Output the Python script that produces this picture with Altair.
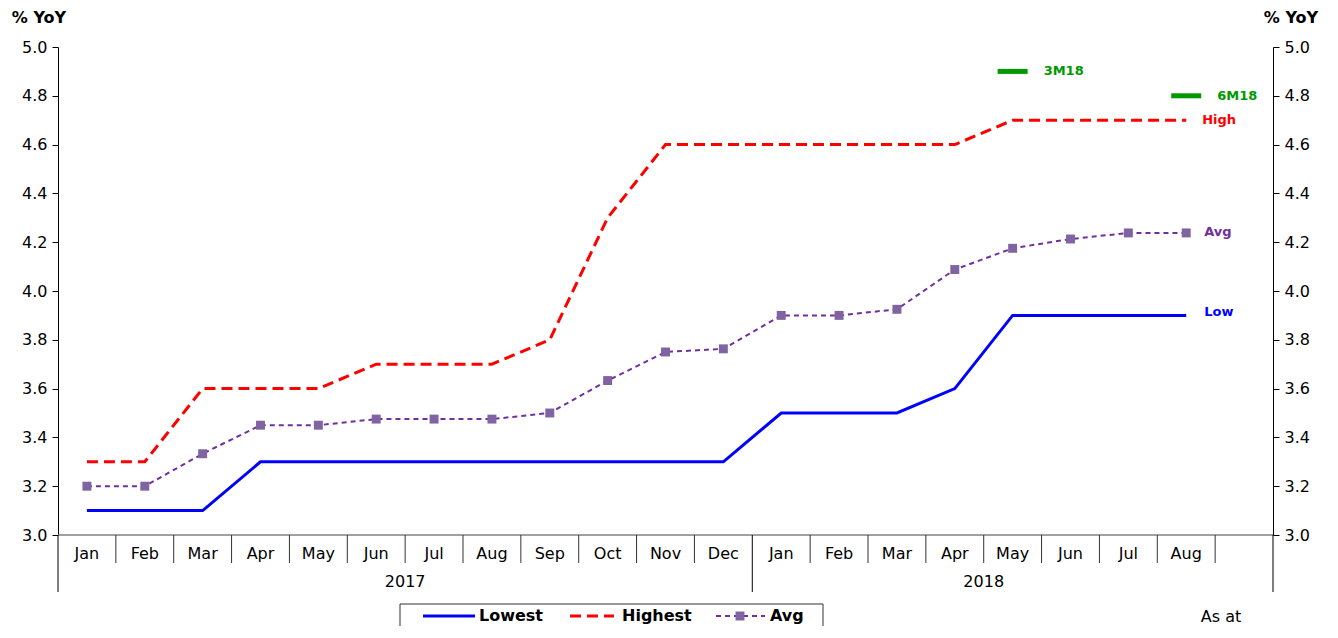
import altair as alt
import pandas as pd

months = ["Jan", "Feb", "Mar", "Apr", "May", "Jun", "Jul", "Aug", "Sep", "Oct", "Nov", "Dec",
          "Jan", "Feb", "Mar", "Apr", "May", "Jun", "Jul", "Aug"]
lowest = [3.1, 3.1, 3.1, 3.3, 3.3, 3.3, 3.3, 3.3, 3.3, 3.3, 3.3, 3.3,
          3.5, 3.5, 3.5, 3.6, 3.9, 3.9, 3.9, 3.9]
highest = [3.3, 3.3, 3.6, 3.6, 3.6, 3.7, 3.7, 3.7, 3.8, 4.3, 4.6, 4.6,
           4.6, 4.6, 4.6, 4.6, 4.7, 4.7, 4.7, 4.7]
avg = [3.2, 3.2, 3.333, 3.45, 3.45, 3.475, 3.475, 3.475, 3.5, 3.633, 3.75, 3.763,
       3.9, 3.9, 3.925, 4.088, 4.175, 4.213, 4.238, 4.238]
years = ["2017", "2018"]
year_start = [0, 12]
year_end = [12, 20]
forecast_labels = ["3M18", "6M18"]
forecast_index = [16, 19]
forecast_values = [4.9, 4.8]
end_labels = ["Low", "High", "Avg"]
legend_labels = ["Lowest", "Highest", "Avg"]
n_slots = 21
y_ticks = [3.0, 3.2, 3.4, 3.6, 3.8, 4.0, 4.2, 4.4, 4.6, 4.8, 5.0]

W, H = 1215, 488
FONT = "DejaVu Sans"
BLUE = "#0000FF"
RED = "#FF0000"
PURPLE = "#7030A0"
MARK = "#8064A2"
GREEN = "#009900"

df = pd.DataFrame({
    "pos": [i + 0.5 for i in range(len(months))],
    "month": months,
    "lowest": lowest,
    "highest": highest,
    "avg": avg,
})
last = df.iloc[[-1]]

xs = alt.Scale(domain=[0, n_slots], nice=False, zero=False)
ys = alt.Scale(domain=[3.0, 5.0], nice=False, zero=False)
X = alt.X("pos:Q", scale=xs, axis=None)


def Y(field, axis=None):
    return alt.Y(f"{field}:Q", scale=ys, axis=axis)


def yaxis(orient):
    return alt.Axis(orient=orient, values=y_ticks, format=".1f", grid=False, title=None,
                    tickSize=6, tickColor="#000000", domainColor="#000000",
                    labelFont=FONT, labelFontSize=16, labelColor="#000000",
                    labelPadding=5)


# separators / x axis
seps = pd.DataFrame({"b": list(range(n_slots + 1))})
long_b = [0, 12, n_slots]
axis_line = alt.Chart(pd.DataFrame({"a": [0]})).mark_rule(color="#808080", strokeWidth=1.5).encode(
    x=alt.value(0), x2=alt.value(W), y=alt.value(H))
short_sep = alt.Chart(seps).transform_filter(
    alt.FieldOneOfPredicate(field="b", oneOf=[b for b in range(n_slots + 1) if b not in long_b])
).mark_rule(color="#333333", strokeWidth=1).encode(
    x=alt.X("b:Q", scale=xs, axis=None), y=alt.value(H), y2=alt.value(H + 28))
long_sep = alt.Chart(seps).transform_filter(
    alt.FieldOneOfPredicate(field="b", oneOf=long_b)
).mark_rule(color="#000000", strokeWidth=1).encode(
    x=alt.X("b:Q", scale=xs, axis=None), y=alt.value(H), y2=alt.value(H + 57))

month_text = alt.Chart(df).mark_text(font=FONT, fontSize=16, color="#000000", baseline="middle").encode(
    x=X, y=alt.value(H + 19), text="month:N")
ydf = pd.DataFrame({"year": years, "mid": [(a + b) / 2 for a, b in zip(year_start, year_end)]})
year_text = alt.Chart(ydf).mark_text(font=FONT, fontSize=16, color="#000000", baseline="middle").encode(
    x=alt.X("mid:Q", scale=xs, axis=None), y=alt.value(H + 47), text="year:N")

# series
low_line = alt.Chart(df).mark_line(color=BLUE, strokeWidth=3).encode(x=X, y=Y("lowest", yaxis("left")))
high_line = alt.Chart(df).mark_line(color=RED, strokeWidth=3, strokeDash=[11, 6]).encode(
    x=X, y=Y("highest", yaxis("right")))
avg_line = alt.Chart(df).mark_line(color=PURPLE, strokeWidth=2, strokeDash=[5, 4]).encode(x=X, y=Y("avg"))
avg_pts = alt.Chart(df).mark_point(shape="square", filled=True, size=80, color=MARK, opacity=1).encode(
    x=X, y=Y("avg"))

lab_low = alt.Chart(last).mark_text(font=FONT, fontSize=13, fontWeight="bold", color=BLUE,
                                    align="left", dx=18, dy=-3).encode(
    x=X, y=Y("lowest"), text=alt.value(end_labels[0]))
lab_high = alt.Chart(last).mark_text(font=FONT, fontSize=13, fontWeight="bold", color=RED,
                                     align="left", dx=16).encode(
    x=X, y=Y("highest"), text=alt.value(end_labels[1]))
lab_avg = alt.Chart(last).mark_text(font=FONT, fontSize=13, fontWeight="bold", color=PURPLE,
                                    align="left", dx=18, dy=-1).encode(
    x=X, y=Y("avg"), text=alt.value(end_labels[2]))

fdf = pd.DataFrame({"pos": [i + 0.5 for i in forecast_index], "val": forecast_values,
                    "lab": forecast_labels})
f_tick = alt.Chart(fdf).mark_tick(orient="horizontal", size=30, thickness=5, color=GREEN, opacity=1).encode(
    x=X, y=Y("val"))
f_text = alt.Chart(fdf).mark_text(font=FONT, fontSize=13, fontWeight="bold", color=GREEN,
                                  align="left", dx=31).encode(x=X, y=Y("val"), text="lab:N")

# titles
one = pd.DataFrame({"a": [0]})
t_left = alt.Chart(one).mark_text(font=FONT, fontSize=16, fontWeight="bold", color="#000000",
                                  baseline="middle").encode(
    x=alt.value(-19), y=alt.value(-29), text=alt.value("% YoY"))
t_right = alt.Chart(one).mark_text(font=FONT, fontSize=16, fontWeight="bold", color="#000000",
                                   baseline="middle").encode(
    x=alt.value(1233), y=alt.value(-29), text=alt.value("% YoY"))
as_at = alt.Chart(one).mark_text(font=FONT, fontSize=16, color="#000000", baseline="middle").encode(
    x=alt.value(1163), y=alt.value(570), text=alt.value("As at"))

# legend
LY = 569
leg_box = alt.Chart(one).mark_rect(fill="#FFFFFF", stroke="#333333", strokeWidth=1).encode(
    x=alt.value(342), x2=alt.value(765), y=alt.value(LY - 12), y2=alt.value(LY + 12))
leg_low = alt.Chart(one).mark_rule(color=BLUE, strokeWidth=3).encode(
    x=alt.value(365), x2=alt.value(417), y=alt.value(LY))
leg_high = alt.Chart(one).mark_rule(color=RED, strokeWidth=3, strokeDash=[11, 6]).encode(
    x=alt.value(512), x2=alt.value(556), y=alt.value(LY))
leg_avg = alt.Chart(one).mark_rule(color=PURPLE, strokeWidth=2, strokeDash=[5, 4]).encode(
    x=alt.value(658), x2=alt.value(707), y=alt.value(LY))
leg_sq = alt.Chart(one).mark_point(shape="square", filled=True, size=80, color=MARK, opacity=1).encode(
    x=alt.value(682), y=alt.value(LY))
leg_df = pd.DataFrame({"lab": legend_labels})
leg_text = alt.layer(*[
    alt.Chart(leg_df.iloc[[i]]).mark_text(font=FONT, fontSize=16, fontWeight="bold", color="#000000",
                                          align="left", baseline="middle").encode(
        x=alt.value(xp), y=alt.value(LY), text="lab:N")
    for i, xp in enumerate([421, 564, 712])
])

chart = alt.layer(
    low_line, high_line, axis_line, short_sep, long_sep, month_text, year_text,
    avg_line, avg_pts, lab_low, lab_high, lab_avg, f_tick, f_text,
    t_left, t_right, as_at, leg_box, leg_low, leg_high, leg_avg, leg_sq, leg_text,
).resolve_scale(y="independent").properties(
    width=W, height=H,
    autosize=alt.AutoSizeParams(type="none"),
    padding={"left": 50, "top": 39, "right": 57, "bottom": 91},
).configure(background="#FFFFFF").configure_view(stroke="transparent", strokeWidth=0)

chart.save("out.html", embed_options={"renderer": "svg", "actions": False})
